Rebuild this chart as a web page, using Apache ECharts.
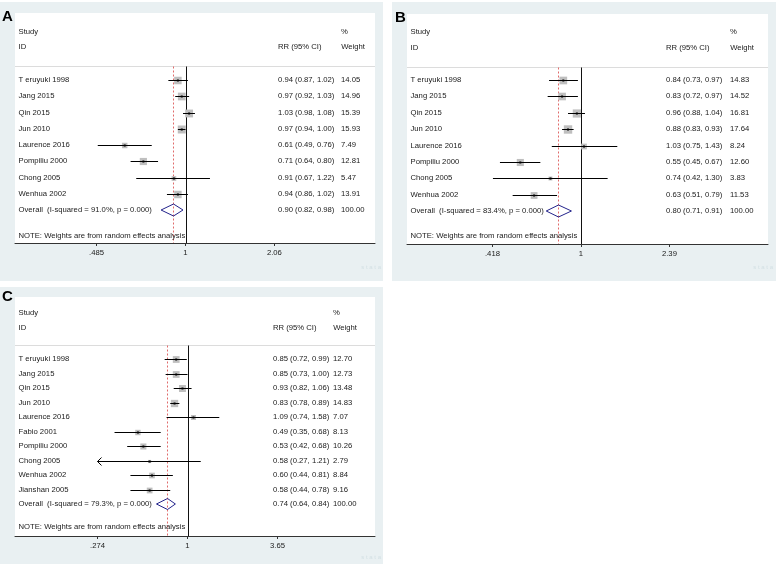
<!DOCTYPE html>
<html><head><meta charset="utf-8">
<script src="https://cdn.jsdelivr.net/npm/echarts@6/dist/echarts.min.js"></script>
<style>html,body{margin:0;padding:0;background:#fff}#c{width:778px;height:564px}</style>
</head><body><div id="c"></div><script>
// ---------- Panel A ----------
const studiesA = ['T eruyuki 1998','Jang 2015','Qin 2015','Jun 2010','Laurence 2016','Pompiliu 2000','Chong 2005','Wenhua 2002'];
const rrA = [0.94,0.97,1.03,0.97,0.61,0.71,0.91,0.94];
const loA = [0.87,0.92,0.98,0.94,0.49,0.64,0.67,0.86];
const hiA = [1.02,1.03,1.08,1.00,0.76,0.80,1.22,1.02];
const wA  = [14.05,14.96,15.39,15.93,7.49,12.81,5.47,13.91];
const overallA = [0.90,0.82,0.98];
const hetA = '91.0%';
const ticksA = [0.485,1,2.06];
const tickLabelsA = ['.485','1','2.06'];
// ---------- Panel B ----------
const studiesB = ['T eruyuki 1998','Jang 2015','Qin 2015','Jun 2010','Laurence 2016','Pompiliu 2000','Chong 2005','Wenhua 2002'];
const rrB = [0.84,0.83,0.96,0.88,1.03,0.55,0.74,0.63];
const loB = [0.73,0.72,0.88,0.83,0.75,0.45,0.42,0.51];
const hiB = [0.97,0.97,1.04,0.93,1.43,0.67,1.30,0.79];
const wB  = [14.83,14.52,16.81,17.64,8.24,12.60,3.83,11.53];
const overallB = [0.80,0.71,0.91];
const hetB = '83.4%';
const ticksB = [0.418,1,2.39];
const tickLabelsB = ['.418','1','2.39'];
// ---------- Panel C ----------
const studiesC = ['T eruyuki 1998','Jang 2015','Qin 2015','Jun 2010','Laurence 2016','Fabio 2001','Pompiliu 2000','Chong 2005','Wenhua 2002','Jianshan 2005'];
const rrC = [0.85,0.85,0.93,0.83,1.09,0.49,0.53,0.58,0.60,0.58];
const loC = [0.72,0.73,0.82,0.78,0.74,0.35,0.42,0.27,0.44,0.44];
const hiC = [0.99,1.00,1.06,0.89,1.58,0.68,0.68,1.21,0.81,0.78];
const wC  = [12.70,12.73,13.48,14.83,7.07,8.13,10.26,2.79,8.84,9.16];
const overallC = [0.74,0.64,0.84];
const hetC = '79.3%';
const ticksC = [0.274,1,3.65];
const tickLabelsC = ['.274','1','3.65'];

const FONT = '"Liberation Sans", Arial, sans-serif';
const FS = 7.7;
const TXT = '#1a1a1a';
const BG = '#e9f0f2';

const panels = [
  {letter:'A', names:studiesA, rr:rrA, lo:loA, hi:hiA, w:wA, overall:overallA, het:hetA, ticks:ticksA, labels:tickLabelsA,
   L:{bg:[0,2,383,279], letterXY:[2,17], grid:[15,13,360,230], nullX:185.5, ppl:123, row0:80, rowH:16.25,
      nameOff:3.5, rrOff:263, wOff:326, boxK:2.0, dia:6, studyY:32, idY:47, sepY:66, noteY:236, wm:[381,267]}},
  {letter:'B', names:studiesB, rr:rrB, lo:loB, hi:hiB, w:wB, overall:overallB, het:hetB, ticks:ticksB, labels:tickLabelsB,
   L:{bg:[392,2,384,279], letterXY:[395,18], grid:[407,14,361,230], nullX:581, ppl:101.5, row0:80, rowH:16.375,
      nameOff:3.5, rrOff:259, wOff:323, boxK:2.0, dia:6, studyY:32, idY:48, sepY:67, noteY:236, wm:[773,267]}},
  {letter:'C', names:studiesC, rr:rrC, lo:loC, hi:hiC, w:wC, overall:overallC, het:hetC, ticks:ticksC, labels:tickLabelsC,
   L:{bg:[0,287,383,277], letterXY:[2,297], grid:[15,297,360,239], nullX:187.5, ppl:69.5, row0:359, rowH:14.5,
      nameOff:3.5, rrOff:258, wOff:318, boxK:1.9, dia:5.5, studyY:313, idY:328, sepY:345, noteY:527, wm:[381,557]}}
];

function txt(x, y, text, align) {
  return {type:'text', x:x, y:y, style:{text:text, fill:TXT, fontSize:FS, fontFamily:FONT,
    align:align || 'left', verticalAlign:'middle'}};
}
const f2 = v => v.toFixed(2);
const ciText = (r,l,h) => f2(r) + ' (' + f2(l) + ', ' + f2(h) + ')';
const rowOf = (p, py) => (py - p.L.row0) / p.L.rowH;

const grids = [], xAxes = [], yAxes = [], series = [], graphics = [];

panels.forEach((p, gi) => {
  const L = p.L;
  const [gl, gt, gw, gh] = L.grid;
  graphics.push({type:'rect', shape:{x:L.bg[0], y:L.bg[1], width:L.bg[2], height:L.bg[3]}, style:{fill:BG}, z:-10});
  graphics.push({type:'text', x:L.letterXY[0], y:L.letterXY[1], style:{text:p.letter, fill:'#000', fontSize:15, fontWeight:'bold', fontFamily:FONT, verticalAlign:'middle'}, z:10});
  graphics.push({type:'text', x:L.wm[0], y:L.wm[1], style:{text:'s t a t a', fill:'#d3e0e4', fontSize:6, fontFamily:FONT, align:'right', verticalAlign:'middle'}});

  grids.push({left:gl, top:gt, width:gw, height:gh, show:true, backgroundColor:'#fff', borderWidth:0, containLabel:false, outerBoundsMode:'none'});
  const lnTicks = p.ticks.map(Math.log);
  xAxes.push({
    type:'value', gridIndex:gi,
    min:(gl - L.nullX) / L.ppl, max:(gl + gw - L.nullX) / L.ppl,
    axisLine:{show:true, onZero:false, lineStyle:{color:'#333', width:1}},
    splitLine:{show:false},
    axisTick:{show:true, length:3, inside:false, customValues:lnTicks, lineStyle:{color:'#333'}},
    axisLabel:{show:true, customValues:lnTicks, margin:6, color:TXT, fontSize:FS, fontFamily:FONT,
      formatter: v => { const k = lnTicks.findIndex(t => Math.abs(t - v) < 1e-6); return k >= 0 ? p.labels[k] : ''; }}
  });
  yAxes.push({type:'value', gridIndex:gi, inverse:true, show:false,
    min:(gt - L.row0) / L.rowH, max:(gt + gh - L.row0) / L.rowH});

  const n = p.names.length;
  const lnMin = lnTicks[0], lnMax = lnTicks[2];

  // reference lines, headers, overall diamond
  series.push({
    type:'custom', xAxisIndex:gi, yAxisIndex:gi, clip:false, silent:true, z:2,
    data:[[0, 0]],
    renderItem(params, api) {
      const cs = params.coordSys;
      const sepY = Math.round(api.coord([0, rowOf(p, L.sepY)])[1]) + 0.5;
      const bot = cs.y + cs.height;
      const nx = Math.round(api.coord([0, 0])[0]) + 0.5;
      const ox = Math.round(api.coord([Math.log(p.overall[0]), 0])[0]) + 0.5;
      const oy = api.coord([0, n])[1];
      const ol = api.coord([Math.log(p.overall[1]), n])[0];
      const oh = api.coord([Math.log(p.overall[2]), n])[0];
      const yS = api.coord([0, rowOf(p, L.studyY)])[1];
      const yI = api.coord([0, rowOf(p, L.idY)])[1];
      const yN = api.coord([0, rowOf(p, L.noteY)])[1];
      const nmx = cs.x + L.nameOff, rx = cs.x + L.rrOff, wx = cs.x + L.wOff;
      const wRight = wx + 24;
      const ch = [
        {type:'line', shape:{x1:cs.x, y1:sepY, x2:cs.x + cs.width, y2:sepY}, style:{stroke:'#dcdcdc', lineWidth:1}},
        {type:'line', shape:{x1:nx, y1:sepY, x2:nx, y2:bot}, style:{stroke:'#111', lineWidth:1}},
        {type:'line', shape:{x1:ox, y1:sepY, x2:ox, y2:bot}, style:{stroke:'#e06a6a', lineWidth:1, lineDash:[2,2]}},
        {type:'polygon', shape:{points:[[ol, oy],[ox, oy - L.dia],[oh, oy],[ox, oy + L.dia]]}, style:{fill:'none', stroke:'#24248c', lineWidth:1}},
        txt(nmx, yS, 'Study'), txt(nmx, yI, 'ID'),
        txt(rx, yI, 'RR (95% CI)'),
        txt(wRight - 24, yS, '%'),
        txt(wRight, yI, 'Weight', 'right'),
        txt(nmx, oy, 'Overall  (I-squared = ' + p.het + ', p = 0.000)'),
        txt(rx, oy, ciText(p.overall[0], p.overall[1], p.overall[2])),
        txt(wx, oy, '100.00'),
        txt(nmx, yN, 'NOTE: Weights are from random effects analysis')
      ];
      return {type:'group', children:ch};
    }
  });

  // individual studies
  series.push({
    type:'custom', xAxisIndex:gi, yAxisIndex:gi, clip:false, silent:true, z:3,
    data:p.names.map((_, i) => [Math.log(p.rr[i]), i]),
    renderItem(params, api) {
      const i = params.dataIndex, cs = params.coordSys;
      const lo = Math.log(p.lo[i]), hi = Math.log(p.hi[i]);
      const c = api.coord([api.value(0), api.value(1)]);
      const y = Math.round(c[1]) + 0.5;
      const xl = api.coord([Math.max(lo, lnMin), i])[0];
      const xh = api.coord([Math.min(hi, lnMax), i])[0];
      const s = L.boxK * Math.sqrt(p.w[i]);
      const ch = [
        {type:'rect', shape:{x:c[0] - s/2, y:y - s/2, width:s, height:s}, style:{fill:'#bfbfbf'}},
        {type:'line', shape:{x1:xl, y1:y, x2:xh, y2:y}, style:{stroke:'#000', lineWidth:1}},
        {type:'rect', shape:{x:c[0] - 1, y:y - 1, width:2, height:2}, style:{fill:'#000'}},
        txt(cs.x + L.nameOff, c[1], p.names[i]),
        txt(cs.x + L.rrOff, c[1], ciText(p.rr[i], p.lo[i], p.hi[i])),
        txt(cs.x + L.wOff, c[1], f2(p.w[i]))
      ];
      if (lo < lnMin) ch.push({type:'polyline', shape:{points:[[xl + 4, y - 4],[xl, y],[xl + 4, y + 4]]}, style:{stroke:'#000', fill:'none', lineWidth:1}});
      if (hi > lnMax) ch.push({type:'polyline', shape:{points:[[xh - 4, y - 4],[xh, y],[xh - 4, y + 4]]}, style:{stroke:'#000', fill:'none', lineWidth:1}});
      return {type:'group', children:ch};
    }
  });
});

const chart = echarts.init(document.getElementById('c'), null, {renderer:'canvas'});
chart.setOption({
  animation:false,
  backgroundColor:'#fff',
  grid:grids, xAxis:xAxes, yAxis:yAxes, series:series,
  graphic:graphics
});
</script></body></html>
